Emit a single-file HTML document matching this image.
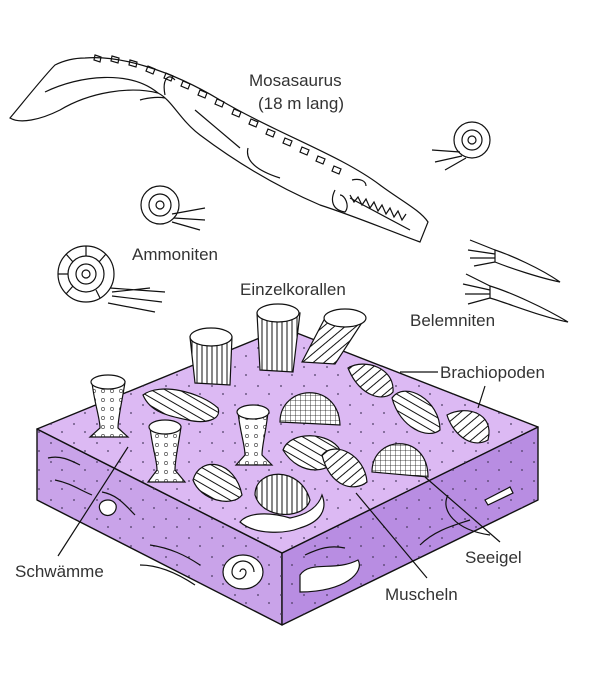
<!DOCTYPE html>
<html><head><meta charset="utf-8"><style>
html,body{margin:0;padding:0;background:#fff}
svg{display:block}
text{font-family:"Liberation Sans",sans-serif;font-size:17px;fill:#333}
</style></head><body>
<svg width="600" height="675" viewBox="0 0 600 675" xmlns="http://www.w3.org/2000/svg">
<defs>
<pattern id="vs" width="5" height="10" patternUnits="userSpaceOnUse"><rect width="5" height="10" fill="#fff"/><line x1="2" y1="0" x2="2" y2="10" stroke="#111" stroke-width="1"/></pattern>
<pattern id="ds" width="7" height="7" patternUnits="userSpaceOnUse" patternTransform="rotate(30)"><rect width="7" height="7" fill="#fff"/><line x1="0" y1="3" x2="7" y2="3" stroke="#111" stroke-width="1"/></pattern>
<pattern id="ds2" width="7" height="7" patternUnits="userSpaceOnUse" patternTransform="rotate(-40)"><rect width="7" height="7" fill="#fff"/><line x1="0" y1="3" x2="7" y2="3" stroke="#111" stroke-width="1"/></pattern>
<pattern id="dots" width="9" height="9" patternUnits="userSpaceOnUse"><rect width="9" height="9" fill="#fff"/><circle cx="4" cy="4" r="1.6" fill="none" stroke="#555" stroke-width="0.7"/></pattern>
<pattern id="grid" width="5" height="5" patternUnits="userSpaceOnUse"><rect width="5" height="5" fill="#fff"/><path d="M0,0 H5 M0,0 V5" stroke="#111" stroke-width="0.8"/></pattern>
<pattern id="spk" width="23" height="19" patternUnits="userSpaceOnUse"><circle cx="5" cy="6" r="0.9" fill="#4a3a60"/><circle cx="16" cy="14" r="0.9" fill="#4a3a60"/></pattern>
</defs>
<g stroke="#111" stroke-width="1.2" fill="none">
<!-- Mosasaurus -->
<path d="M85,58 C120,55 170,70 220,100 C280,135 340,155 380,185 C400,200 420,210 428,222 L420,242 C400,235 360,218 320,205 C280,188 240,165 200,135 C180,120 172,100 158,93 C130,86 90,92 60,110 C40,120 20,124 10,118 C25,100 45,75 55,65 C65,60 75,58 85,58 Z" fill="#fff"/>
<path d="M45,92 C80,75 130,70 158,93 M165,95 C162,80 168,72 175,80 M140,100 C150,97 160,97 165,98 M195,110 L240,148 M248,148 C245,160 255,170 280,178 M335,190 C330,200 332,210 345,212 C350,206 345,195 340,195 M352,180 C360,178 366,181 366,186 M350,198 L410,230"/>
<path d="M350,195 L354,202 L358,197 L362,205 L366,199 L370,208 L374,202 L378,211 L382,205 L386,214 L390,208 L394,217 L398,211 L402,220 L406,214"/>
<path d="M95,55 l6,2 l-1,5 l-6,-2 z M112,56 l7,2 l-1,5 l-7,-2 z M130,60 l7,2 l-1,5 l-7,-2 z M148,66 l7,3 l-2,5 l-7,-3 z M166,73 l7,3 l-2,5 l-7,-3 z M183,81 l7,3 l-2,5 l-7,-3 z M200,90 l7,3 l-2,5 l-7,-3 z M217,99 l7,3 l-2,5 l-7,-3 z M234,109 l7,3 l-2,5 l-7,-3 z M251,119 l7,3 l-2,5 l-7,-3 z M268,129 l7,3 l-2,5 l-7,-3 z M285,138 l7,3 l-2,5 l-7,-3 z M302,147 l7,3 l-2,5 l-7,-3 z M318,156 l7,3 l-2,5 l-7,-3 z M334,166 l7,3 l-2,5 l-7,-3 z"/>
<!-- ammonites -->
<circle cx="86" cy="274" r="28" fill="#fff"/><path d="M86,274 m-18,0 a18,18 0 1,1 36,0 a18,18 0 1,1 -36,0 M86,274 m-10,0 a10,10 0 1,1 20,0 a10,10 0 1,1 -20,0 M86,274 m-4,0 a4,4 0 1,1 8,0 a4,4 0 1,1 -8,0"/>
<path d="M86,246 L86,256 M66,254 L73,262 M58,274 L68,274 M66,294 L73,286 M106,254 L99,262 M100,298 L96,290"/>
<path d="M110,288 L165,292 M112,296 L162,302 M108,303 L155,312 M112,292 L150,288"/>
<circle cx="160" cy="205" r="19" fill="#fff"/><circle cx="160" cy="205" r="11"/><circle cx="160" cy="205" r="4"/>
<path d="M172,214 L205,208 M174,218 L205,220 M172,222 L200,230"/>
<circle cx="472" cy="140" r="18" fill="#fff"/><circle cx="472" cy="140" r="10"/><circle cx="472" cy="140" r="4"/>
<path d="M460,152 L432,150 M462,156 L435,162 M466,158 L445,170"/>
<!-- belemnites -->
<path d="M495,250 C510,255 540,268 560,282 C540,278 510,268 495,262 Z" fill="#fff"/>
<path d="M495,250 L470,240 M495,254 L468,250 M495,258 L470,258 M495,262 L474,266"/>
<path d="M490,286 C510,292 545,308 568,322 C545,318 510,304 490,298 Z" fill="#fff"/>
<path d="M490,286 L466,274 M490,290 L463,284 M490,294 L465,294 M490,298 L468,304"/>
</g>
<!-- Block -->
<g stroke="#111" stroke-width="1.4" stroke-linejoin="round">
<polygon points="37,429 37,500 282,625 282,553" fill="#c9a3e9"/>
<polygon points="282,553 282,625 538,500 538,427" fill="#b88de2"/>
<polygon points="37,429 284,328 538,427 282,553" fill="#dcb9f3"/>
</g>
<g fill="url(#spk)"><polygon points="37,429 37,500 282,625 282,553"/><polygon points="282,553 282,625 538,500 538,427"/><polygon points="37,429 284,328 538,427 282,553"/></g>
<g stroke="#111" stroke-width="1.2">
<!-- corals -->
<path d="M190,337 L195,383 L230,385 L232,337 Z" fill="url(#vs)"/><ellipse cx="211" cy="337" rx="21" ry="9" fill="#fff"/>
<path d="M257,313 L260,370 L293,372 L300,313 Z" fill="url(#vs)"/><ellipse cx="278" cy="313" rx="21" ry="9" fill="#fff"/>
<path d="M325,318 L302,362 L335,364 L365,318 Z" fill="url(#ds2)"/><ellipse cx="345" cy="318" rx="21" ry="9" fill="#fff"/>
<!-- sponges -->
<path d="M92,382 C94,402 100,418 100,428 L90,437 L128,437 L118,428 C118,418 122,402 125,382 Z" fill="url(#dots)"/><ellipse cx="108" cy="382" rx="17" ry="7" fill="#fff"/>
<path d="M150,427 C152,447 157,460 157,470 L148,482 L185,482 L175,470 C175,460 178,447 181,427 Z" fill="url(#dots)"/><ellipse cx="165" cy="427" rx="16" ry="7" fill="#fff"/>
<path d="M238,412 C240,432 245,445 245,455 L236,465 L272,465 L262,455 C262,445 266,432 268,412 Z" fill="url(#dots)"/><ellipse cx="253" cy="412" rx="16" ry="7" fill="#fff"/>
<!-- bivalves & brachiopods -->
<path d="M143,395 C160,382 200,392 218,408 C222,420 205,424 188,420 C168,416 150,412 143,395 Z" fill="url(#ds)"/>
<path d="M348,368 C365,358 395,368 393,392 C385,402 360,398 348,368 Z" fill="url(#ds2)"/>
<path d="M392,398 C405,380 440,400 440,430 C428,440 400,428 392,398 Z" fill="url(#ds)"/>
<path d="M447,415 C465,405 495,412 488,440 C470,450 452,432 447,415 Z" fill="url(#ds2)"/>
<path d="M283,450 C290,430 330,432 340,450 C335,475 300,478 283,450 Z" fill="url(#ds)"/>
<path d="M322,455 C335,440 365,455 367,482 C355,492 330,488 322,455 Z" fill="url(#ds2)"/>
<path d="M193,480 C200,455 235,460 242,495 C232,508 200,500 193,480 Z" fill="url(#ds)"/>
<!-- urchins -->
<path d="M280,422 C280,385 338,380 340,425 Z" fill="url(#grid)"/>
<path d="M372,472 C372,435 428,432 428,477 Z" fill="url(#grid)"/>
<!-- snail -->
<path d="M240,522 C248,512 270,512 290,518 C305,515 318,508 322,495 C328,510 320,522 300,528 C285,534 255,535 240,522 Z" fill="#fff"/>
<path d="M255,495 C255,468 300,465 310,500 C305,520 262,520 255,495 Z" fill="url(#vs)"/>
<!-- embedded fossils -->
<ellipse cx="243" cy="572" rx="20" ry="17" fill="#fff"/>
<path d="M300,575 C310,560 335,572 358,560 C365,572 345,592 300,592 Z" fill="#fff"/>
<path d="M100,510 C96,500 112,496 116,505 C118,515 104,520 100,510 Z" fill="#fff"/>
<path d="M465,445 L490,432 L493,438 L468,450 Z" transform="translate(20,55)" fill="#fff"/>
</g>
<g stroke="#111" stroke-width="1.2" fill="none">
<path d="M243,572 m-3,0 a3,3 0 1,1 6,0 a7,7 0 1,1 -14,0 a11,11 0 1,1 22,0"/>
<path d="M48,458 C60,455 70,460 80,465 M55,480 C70,483 80,490 92,495 M102,492 C118,495 125,505 135,515 M150,545 C170,548 185,555 200,565 M140,565 C160,565 180,575 195,585 M305,555 C320,548 330,545 345,548 M420,545 C435,530 455,525 470,520 M448,495 C440,510 455,530 490,535"/>
<!-- leader lines -->
<path d="M58,556 L128,447 M500,542 L425,477 M427,578 L356,493 M438,372 L400,372 M485,386 L478,408"/>
</g>
<text x="249" y="86">Mosasaurus</text>
<text x="258" y="109">(18 m lang)</text>
<text x="132" y="260">Ammoniten</text>
<text x="240" y="295">Einzelkorallen</text>
<text x="410" y="326">Belemniten</text>
<text x="440" y="378">Brachiopoden</text>
<text x="15" y="577">Schwämme</text>
<text x="465" y="563">Seeigel</text>
<text x="385" y="600">Muscheln</text>
</svg>
</body></html>
